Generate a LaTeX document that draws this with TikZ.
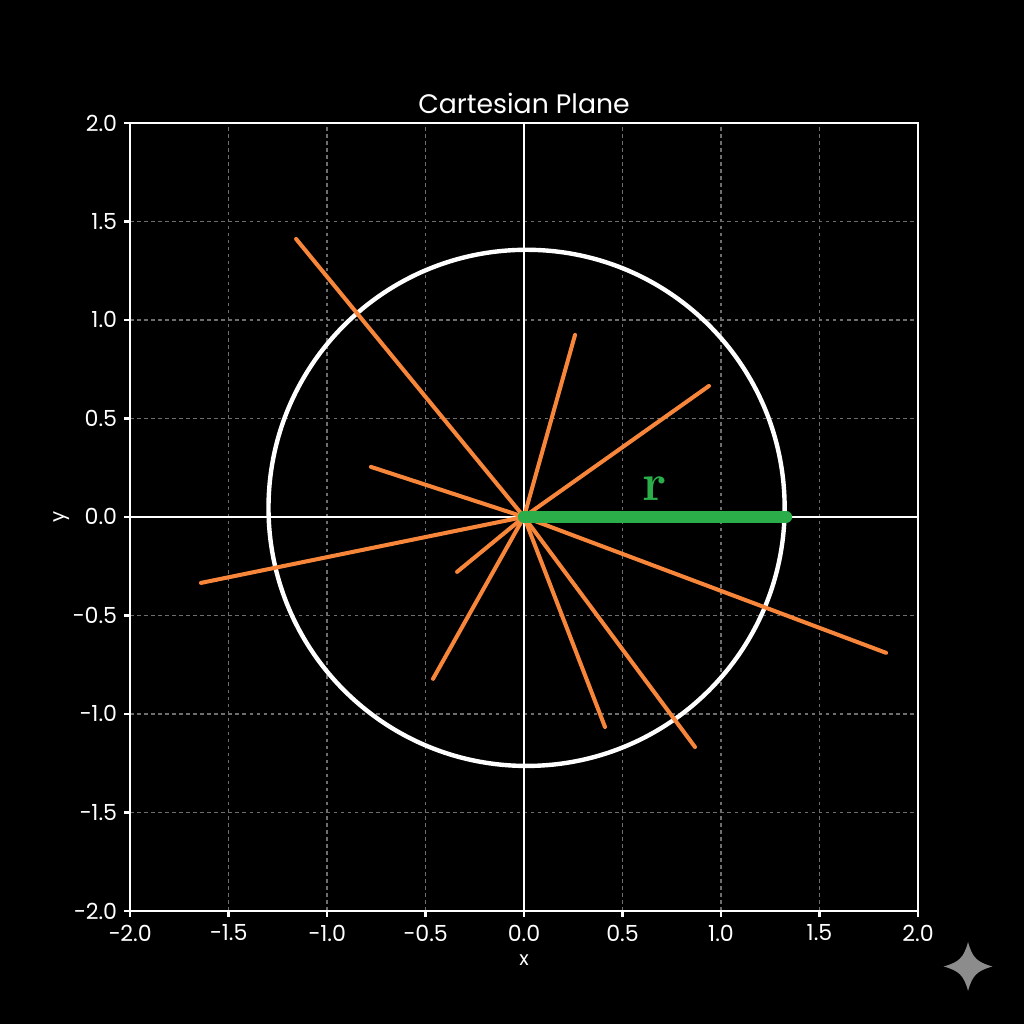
\documentclass[tikz,border=0pt]{standalone}
\usepackage{fontspec}
\setmainfont{Poppins}
\newfontfamily\rfont{Latin Modern Roman}
\usetikzlibrary{positioning}

\definecolor{spokeorange}{HTML}{F7863A}
\definecolor{radiusgreen}{HTML}{2BAE4A}
\definecolor{gridgray}{HTML}{6E6E6E}
\definecolor{markgray}{HTML}{8C8C8C}

\begin{document}
\begin{tikzpicture}
    [
        x=1.97cm, y=1.97cm,
        gridline/.style = {
            gridgray, line width=0.35pt, dash pattern=on 1pt off 1pt
            },
        axisline/.style = {
            white, line width=0.7pt
            },
        spoke/.style = {
            spokeorange, line width=1.15pt, line cap=round
            },
        ticklabel/.style = {
            white, font=\fontsize{6.3}{7}\selectfont, inner sep=0pt
            },
    ]
    % background and bounds
    \fill[black] (-2.660,-2.574) rectangle (2.538,2.624);
    \useasboundingbox (-2.660,-2.574) rectangle (2.538,2.624);

    % grid
    \foreach \v in {-1.5,-1,-0.5,0.5,1,1.5} {
        \draw[gridline] (\v,-2) -- (\v,2);
        \draw[gridline] (-2,\v) -- (2,\v);
    }
    \draw[axisline] (0,-2) -- (0,2);
    \draw[axisline] (-2,0) -- (2,0);
    \draw[axisline] (-2,-2) rectangle (2,2);

    % ticks
    \foreach \v/\t in {-2/−2.0,-1.5/−1.5,-1/−1.0,-0.5/−0.5,0/0.0,0.5/0.5,1/1.0,1.5/1.5,2/2.0} {
        \draw[axisline] (\v,-2) -- (\v,-2.03);
        \draw[axisline] (-2,\v) -- (-2.03,\v);
        \node[ticklabel] (xt\v) at (\v,-2.112) {\t};
        \node[ticklabel, anchor=east] (yt\v) at (-2.062,\v) {\t};
    }

    % labels
    \node[white, font=\fontsize{7.6}{9}\selectfont] (title) at (0,2.10) {Cartesian Plane};
    \node[white, font=\fontsize{5.6}{7}\selectfont] (xlabel) at (0,-2.249) {x};
    \node[white, font=\fontsize{5.6}{7}\selectfont, rotate=90] (ylabel) at (-2.345,0) {y};

    % circle
    \draw[white, line width=1.25pt] (0.013,0.046) circle (1.31);

    % spokes
    \coordinate (O) at (0,0);
    \coordinate (s1) at (-1.157,1.411);
    \coordinate (s2) at (0.259,0.924);
    \coordinate (s3) at (0.939,0.665);
    \coordinate (s4) at (-0.777,0.254);
    \coordinate (s5) at (-1.640,-0.335);
    \coordinate (s6) at (-0.340,-0.279);
    \coordinate (s7) at (-0.462,-0.822);
    \coordinate (s8) at (0.411,-1.066);
    \coordinate (s9) at (0.868,-1.168);
    \coordinate (s10) at (1.838,-0.690);
    \foreach \s in {1,...,10} {
        \draw[spoke] (O) -- (s\s);
    }

    % radius
    \coordinate (R) at (1.33,0);
    \draw[radiusgreen, line width=3.5pt, line cap=round] (O) -- (R);
    \node[radiusgreen, font=\rfont\bfseries\fontsize{15}{17}\selectfont] (rlabel) at (0.665,0.145) {r};

    % sparkle mark
    \begin{scope}[shift={(2.254,-2.282)}]
        \fill[markgray] (0,0.124) .. controls (0.022,0.045) and (0.045,0.022) .. (0.124,0)
            .. controls (0.045,-0.022) and (0.022,-0.045) .. (0,-0.124)
            .. controls (-0.022,-0.045) and (-0.045,-0.022) .. (-0.124,0)
            .. controls (-0.045,0.022) and (-0.022,0.045) .. cycle;
    \end{scope}
\end{tikzpicture}
\end{document}
